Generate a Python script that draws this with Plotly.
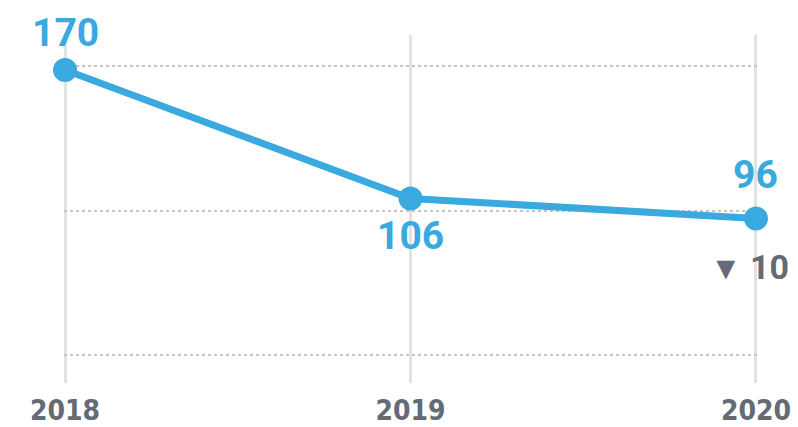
import plotly.graph_objects as go

# Yearly totals
years = ["2018", "2019", "2020"]
values = [170, 106, 96]

BLUE = "#3aa9e0"
GREY = "#646b74"
FONT = "Roboto"

x_pos = list(range(len(years)))

fig = go.Figure()
fig.add_trace(go.Scatter(
    x=x_pos,
    y=values,
    mode="lines+markers",
    line=dict(color=BLUE, width=7),
    marker=dict(color=BLUE, size=24),
    cliponaxis=False,
    hoverinfo="skip",
    showlegend=False,
))

# Value labels: first above, middle below, last above
label_shifts = [37, -38, 44]
for xi, v, ys in zip(x_pos, values, label_shifts):
    fig.add_annotation(
        x=xi, y=v, text=f"<b>{v}</b>", showarrow=False,
        yshift=ys, xanchor="center", yanchor="middle",
        font=dict(family=FONT, size=39, color=BLUE),
    )

# Change from previous year on the last point
change = values[-1] - values[-2]
arrow = "▼" if change < 0 else "▲"
fig.add_annotation(
    x=x_pos[-1], y=values[-1],
    text=f"<span style='font-size:32px'>{arrow}</span> <b>{abs(change)}</b>",
    showarrow=False, yshift=-48, xshift=-6, xanchor="center", yanchor="middle",
    font=dict(family=FONT, size=34, color=GREY),
)

fig.update_xaxes(
    range=[-0.003, 2.003],
    tickvals=x_pos,
    ticktext=[f"<b>{y}</b>" for y in years],
    tickfont=dict(family="DejaVu Sans Condensed", size=28, color=GREY),
    ticklabelstandoff=8,
    automargin=False,
    showgrid=True, gridcolor="#e2e2e2", gridwidth=3,
    zeroline=False, showline=False, ticks="",
)
fig.update_yaxes(
    range=[14.05, 187.45],
    tick0=28, dtick=72,
    showticklabels=False,
    automargin=False,
    showgrid=True, gridcolor="#c4c4c4", gridwidth=2, griddash="dot",
    zeroline=False, showline=False, ticks="",
)

fig.update_layout(
    width=798, height=427,
    margin=dict(l=64, r=41, t=35, b=44),
    paper_bgcolor="white", plot_bgcolor="white",
)

fig.write_html("out.html")
